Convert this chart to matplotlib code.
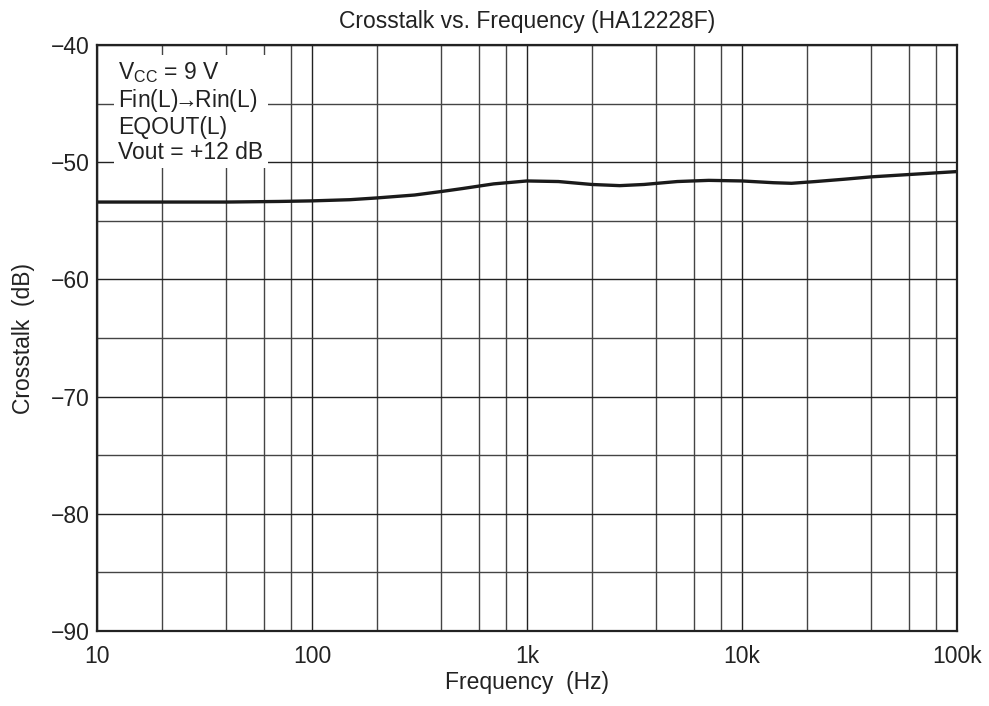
import matplotlib.pyplot as plt
from matplotlib.ticker import FixedLocator, NullFormatter

plt.rcParams['font.family'] = ['Liberation Sans', 'DejaVu Sans']
plt.rcParams['mathtext.default'] = 'regular'

freq_hz = [10, 20, 40, 70, 100, 150, 200, 300, 400, 500, 700, 1000, 1400,
           2000, 2700, 3500, 5000, 7000, 10000, 14000, 17000, 22000, 30000,
           40000, 60000, 100000]
crosstalk_db = [-53.4, -53.4, -53.4, -53.35, -53.3, -53.2, -53.05, -52.8,
                -52.5, -52.25, -51.85, -51.6, -51.65, -51.9, -52.0, -51.9,
                -51.65, -51.55, -51.6, -51.75, -51.8, -51.65, -51.45, -51.25,
                -51.05, -50.8]

x_major = [10, 100, 1000, 10000, 100000]
x_labels = ['10', '100', '1k', '10k', '100k']
y_major = [-90, -80, -70, -60, -50, -40]

conditions = ('V$_{CC}$ = 9 V\nFin(L)$\\!\\!\\rightarrow\\!\\!$Rin(L)\n'
              'EQOUT(L)\nVout = +12 dB')

fig = plt.figure(figsize=(9.89, 7.06), dpi=100)
ax = fig.add_axes([97 / 989, 1 - 631 / 706, 860 / 989, 586 / 706])

ax.set_xscale('log')
ax.set_xlim(10, 100000)
ax.set_ylim(-90, -40)

ax.xaxis.set_major_locator(FixedLocator(x_major))
ax.set_xticklabels(x_labels)
minors = [m * d for d in [10, 100, 1000, 10000] for m in (2, 4, 6, 8)]
ax.xaxis.set_minor_locator(FixedLocator(minors))
ax.xaxis.set_minor_formatter(NullFormatter())

ax.set_yticks(y_major)
ax.yaxis.set_minor_locator(FixedLocator(range(-85, -40, 10)))

ax.grid(which='major', color='#222222', lw=1.0)
ax.grid(which='minor', color='#444444', lw=1.0)
ax.set_axisbelow(True)
ax.tick_params(which='both', length=0, labelsize=16.5, colors='#222222')
ax.tick_params(axis='x', pad=10)
ax.tick_params(axis='y', pad=5)
for s in ax.spines.values():
    s.set_linewidth(1.6)
    s.set_color('#222222')

ax.plot(freq_hz, crosstalk_db, color='#1a1a1a', lw=2.4, solid_capstyle='round')

ax.text(0.025, 0.975, conditions, transform=ax.transAxes, fontsize=16.5,
        va='top', ha='left', linespacing=1.12, color='#222222',
        bbox=dict(facecolor='white', edgecolor='none', pad=3))

ax.set_title('Crosstalk vs. Frequency (HA12228F)', fontsize=16.5, pad=12,
             color='#222222')
ax.set_xlabel('Frequency  (Hz)', fontsize=16.5, labelpad=2, color='#222222')
ax.set_ylabel('Crosstalk  (dB)', fontsize=16.5, labelpad=12, color='#222222')

fig.savefig('out.png', dpi=100)
